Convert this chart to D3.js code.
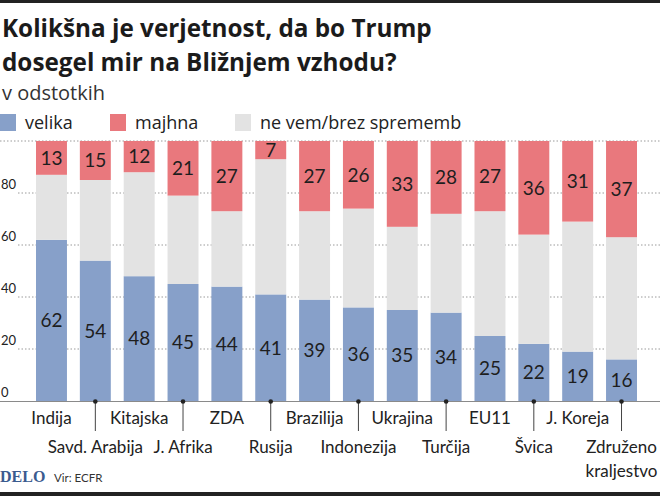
<!DOCTYPE html>
<html><head><meta charset="utf-8">
<script src="https://cdn.jsdelivr.net/npm/d3@7"></script>
<style>
html,body{margin:0;padding:0;background:#fff;}
svg{display:block;}
</style></head>
<body>
<svg id="c" width="660" height="496"></svg>
<script>
const categories = ["Indija","Savd. Arabija","Kitajska","J. Afrika","ZDA","Rusija","Brazilija","Indonezija","Ukrajina","Turčija","EU11","Švica","J. Koreja","Združeno kraljestvo"];
const velika = [62,54,48,45,44,41,39,36,35,34,25,22,19,16];
const neVem  = [25,31,40,34,29,52,34,38,32,38,48,42,50,47];
const majhna = [13,15,12,21,27,7,27,26,33,28,27,36,31,37];
const yTicks = [0,20,40,60,80];
const seriesNames = ["velika","majhna","ne vem/brez sprememb"];

const FONT = "Lato, 'Open Sans', sans-serif";
const FONT2 = "'Open Sans', 'Noto Sans', sans-serif";
const colors = {velika:"#87a0c9", neVem:"#e3e3e3", majhna:"#e9787d"};
const svg = d3.select("#c");

// top and bottom dark rules
svg.append("rect").attr("x",0).attr("y",0).attr("width",660).attr("height",3).attr("fill","#222");
svg.append("rect").attr("x",0).attr("y",492).attr("width",660).attr("height",4).attr("fill","#222");

// title
const title = svg.append("text").attr("x",2).attr("font-family",FONT2).attr("font-weight",700)
  .attr("font-size",22).attr("fill","#1b1b1b");
const t1 = title.append("tspan").attr("x",2).attr("y",37).text("Kolikšna je verjetnost, da bo Trump");
title.append("tspan").attr("x",2).attr("y",71).text("dosegel mir na Bližnjem vzhodu?");
const w1 = t1.node().getComputedTextLength();
if (w1 > 0) title.attr("font-size", 22 * 430 / w1);

const sub = svg.append("text").attr("x",2).attr("y",100).attr("font-family",FONT2).attr("font-size",18)
  .attr("fill","#333").text("v odstotkih");
const ws = sub.node().getComputedTextLength();
if (ws > 0) sub.attr("font-size", 18 * 103 / ws);

// legend
const legX = [0,110,235];
const legCols = [colors.velika, colors.majhna, colors.neVem];
seriesNames.forEach((n,i)=>{
  svg.append("rect").attr("x",legX[i]).attr("y",114).attr("width",16).attr("height",17).attr("fill",legCols[i]);
  svg.append("text").attr("x",legX[i]+25).attr("y",129).attr("font-family",FONT2).attr("font-size",18)
    .attr("fill","#222").text(n);
});

// scales
const x = d3.scaleBand().domain(categories).range([36,637]).paddingInner(0.294).paddingOuter(0);
const y = d3.scaleLinear().domain([0,100]).range([401,141]);

// gridlines
[...yTicks.slice(1),100].forEach(t=>{
  svg.append("line").attr("x1", t===100?0:18).attr("x2",660).attr("y1",y(t)).attr("y2",y(t))
    .attr("stroke","#9a9a9a").attr("stroke-width",1).attr("stroke-dasharray","1.5,2");
});
// y tick labels
yTicks.forEach(t=>{
  svg.append("text").attr("x",1).attr("y",y(t)-4).attr("font-family",FONT).attr("font-size",13)
    .attr("fill","#222").text(t);
});

// stacked bars
const data = categories.map((c,i)=>({cat:c, velika:velika[i], neVem:neVem[i], majhna:majhna[i]}));
const stack = d3.stack().keys(["velika","neVem","majhna"]);
const layers = stack(data);
layers.forEach(layer=>{
  const key = layer.key;
  svg.append("g").selectAll("rect").data(layer).join("rect")
    .attr("x",d=>x(d.data.cat)).attr("width",x.bandwidth())
    .attr("y",d=>y(d[1])).attr("height",d=>y(d[0])-y(d[1]))
    .attr("fill",colors[key]);
  if(key!=="neVem"){
    svg.append("g").selectAll("text").data(layer).join("text")
      .attr("x",d=>x(d.data.cat)+x.bandwidth()/2)
      .attr("y",d=>(y(d[0])+y(d[1]))/2)
      .attr("dy","0.36em").attr("text-anchor","middle")
      .attr("font-family",FONT).attr("font-size",19).attr("fill","#1e1e1e")
      .text(d=>d.data[key]);
  }
});

// baseline
svg.append("line").attr("x1",0).attr("x2",660).attr("y1",y(0)+0.5).attr("y2",y(0)+0.5)
  .attr("stroke","#8a8a8a").attr("stroke-width",1);

// x labels and ticks
categories.forEach((c,i)=>{
  const cx = x(c)+x.bandwidth()/2;
  if(i%2===1){
    svg.append("line").attr("x1",cx).attr("x2",cx).attr("y1",y(0)).attr("y2",431)
      .attr("stroke","#444").attr("stroke-width",1);
    svg.append("circle").attr("cx",cx).attr("cy",y(0)+0.5).attr("r",2.3).attr("fill","#222");
  }
  const baseY = i%2===0 ? 424 : 453;
  const lines = c==="Združeno kraljestvo" ? ["Združeno","kraljestvo"] : [c];
  lines.forEach((l,j)=>{
    svg.append("text").attr("x",cx).attr("y",baseY+j*24).attr("text-anchor","middle")
      .attr("font-family",FONT).attr("font-size",17).attr("fill","#222").text(l);
  });
});

// footer
svg.append("text").attr("x",0).attr("y",482).attr("font-family","'Liberation Serif', serif")
  .attr("font-weight",700).attr("font-size",16).attr("fill","#3b5b8f").text("DELO");
svg.append("text").attr("x",54).attr("y",482).attr("font-family",FONT).attr("font-size",11.5)
  .attr("fill","#333").text("Vir: ECFR");
</script>
</body></html>
